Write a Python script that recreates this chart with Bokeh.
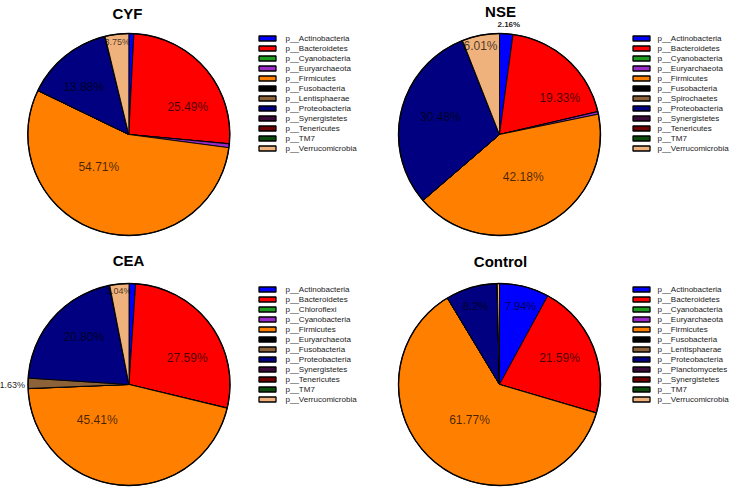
import math
from bokeh.plotting import figure
from bokeh.models import Range1d, ColumnDataSource
from bokeh.embed import file_html
from bokeh.resources import INLINE
from bokeh.core.properties import value

# ---------------- data ----------------
titles = ["CYF", "NSE", "CEA", "Control"]

phyla_cyf = ["p__Actinobacteria", "p__Bacteroidetes", "p__Cyanobacteria", "p__Euryarchaeota",
             "p__Firmicutes", "p__Fusobacteria", "p__Lentisphaerae", "p__Proteobacteria",
             "p__Synergistetes", "p__Tenericutes", "p__TM7", "p__Verrucomicrobia"]
values_cyf = [0.80, 25.49, 0.03, 0.60, 54.71, 0.02, 0.02, 13.88, 0.02, 0.03, 0.02, 3.75]
labels_cyf = ["25.49%", "54.71%", "13.88%", "3.75%"]
label_idx_cyf = [1, 4, 7, 11]

phyla_nse = ["p__Actinobacteria", "p__Bacteroidetes", "p__Cyanobacteria", "p__Euryarchaeota",
             "p__Firmicutes", "p__Fusobacteria", "p__Spirochaetes", "p__Proteobacteria",
             "p__Synergistetes", "p__Tenericutes", "p__TM7", "p__Verrucomicrobia"]
values_nse = [2.16, 19.33, 0.03, 0.40, 42.18, 0.02, 0.02, 30.48, 0.02, 0.02, 0.02, 6.01]
labels_nse = ["2.16%", "19.33%", "42.18%", "30.48%", "6.01%"]
label_idx_nse = [0, 1, 4, 7, 11]

phyla_cea = ["p__Actinobacteria", "p__Bacteroidetes", "p__Chloroflexi", "p__Cyanobacteria",
             "p__Firmicutes", "p__Euryarchaeota", "p__Fusobacteria", "p__Proteobacteria",
             "p__Synergistetes", "p__Tenericutes", "p__TM7", "p__Verrucomicrobia"]
values_cea = [1.05, 27.59, 0.02, 0.03, 45.41, 0.03, 1.63, 20.80, 0.02, 0.03, 0.02, 3.04]
labels_cea = ["27.59%", "45.41%", "1.63%", "20.80%", "3.04%"]
label_idx_cea = [1, 4, 6, 7, 11]

phyla_ctl = ["p__Actinobacteria", "p__Bacteroidetes", "p__Cyanobacteria", "p__Euryarchaeota",
             "p__Firmicutes", "p__Fusobacteria", "p__Lentisphaerae", "p__Proteobacteria",
             "p__Planctomycetes", "p__Synergistetes", "p__TM7", "p__Verrucomicrobia"]
values_ctl = [7.94, 21.59, 0.02, 0.02, 61.77, 0.02, 0.02, 8.20, 0.02, 0.02, 0.02, 0.35]
labels_ctl = ["7.94%", "21.59%", "61.77%", "8.2%"]
label_idx_ctl = [0, 1, 4, 7]

# ---------------- style / layout ----------------
palette = ["#0000FF", "#FF0000", "#1E9E1E", "#9A2BC8", "#FF8000", "#000000",
           "#8C6239", "#000080", "#3A0A3A", "#6E0000", "#0A4A0A", "#F0B27C"]

W, H = 733, 487
R = 101

def Y(y):
    return 489 - y

panels = [
    dict(title=titles[0], phyla=phyla_cyf, values=values_cyf, labels=labels_cyf, idx=label_idx_cyf,
         c=(128.3, 134), title_xy=(127, 13), leg=(267, 285, 38),
         lab=[(59, -27.3, 12, False), (-30, 32.7, 12, False), (-45, -48, 12, False), (-11.6, -92.3, 9, False)]),
    dict(title=titles[1], phyla=phyla_nse, values=values_nse, labels=labels_nse, idx=label_idx_nse,
         c=(499, 134), title_xy=(500, 11), leg=(641, 657, 38),
         lab=[(9.3, -110, 8, True), (60.3, -36.7, 12, False), (23.7, 42.7, 12, False), (-59, -17.3, 12, False), (-19, -89, 12, False)]),
    dict(title=titles[2], phyla=phyla_cea, values=values_cea, labels=labels_cea, idx=label_idx_cea,
         c=(128.5, 384), title_xy=(128, 260), leg=(267, 285, 289),
         lab=[(58.2, -26.7, 12, False), (-31.8, 35, 12, False), (-116.8, 0.3, 9, False), (-45.2, -47.3, 12, False), (-10.2, -94, 9, False)]),
    dict(title=titles[3], phyla=phyla_ctl, values=values_ctl, labels=labels_ctl, idx=label_idx_ctl,
         c=(499, 384), title_xy=(500, 261), leg=(641, 657, 289),
         lab=[(21, -79, 11, False), (60, -26.7, 12, False), (-30, 35, 12, False), (-24, -79, 11, False)]),
]

p = figure(width=W, height=H, x_range=Range1d(0, W), y_range=Range1d(489 - H, 489),
           output_backend="svg", toolbar_location=None, x_axis_location=None, y_axis_location=None,
           min_border=0)
p.grid.visible = False
p.outline_line_color = None
p.background_fill_color = "white"
p.border_fill_color = "white"

FONT = value("Liberation Sans")

for pn in panels:
    vals = pn["values"]
    total = float(sum(vals))
    starts, ends = [], []
    cum = 0.0
    for v in vals:
        a0 = cum / total
        cum += v
        a1 = cum / total
        starts.append(math.pi / 2 - 2 * math.pi * a1)
        ends.append(math.pi / 2 - 2 * math.pi * a0)
    cx, cy = pn["c"]
    src = ColumnDataSource(dict(start=starts, end=ends, color=palette[:len(vals)]))
    p.wedge(x=cx, y=Y(cy), radius=R, start_angle="start", end_angle="end",
            fill_color="color", line_color="black", line_width=0.9, source=src)
    p.circle(x=[cx], y=[Y(cy)], radius=R, fill_color=None, line_color="black", line_width=1.4)

    # slice labels
    for (dx, dy, size, bold), txt in zip(pn["lab"], pn["labels"]):
        outside = bold or abs(dy) < 1
        p.text(x=[cx + dx], y=[Y(cy + dy)], text=[txt], text_font=FONT,
               text_font_size=f"{size}px", text_align="center", text_baseline="middle",
               text_color="black", text_alpha=0.9 if outside else 0.72,
               text_font_style="bold" if bold else "normal")

    # title
    tx, ty = pn["title_xy"]
    p.text(x=[tx], y=[Y(ty)], text=[pn["title"]], text_font=FONT, text_font_size="15px",
           text_font_style="bold", text_align="center", text_baseline="middle", text_color="black")

    # legend
    sx, txx, y0 = pn["leg"]
    ys = [Y(y0 + 10 * i) for i in range(len(pn["phyla"]))]
    p.rect(x=[sx] * len(ys), y=ys, width=17, height=5, fill_color=palette[:len(ys)],
           line_color="black", line_width=1.3)
    p.text(x=[txx] * len(ys), y=ys, text=pn["phyla"], text_font=FONT, text_font_size="8px",
           text_align="left", text_baseline="middle", text_color="#1a1a1a")

open("out.html", "w").write(file_html(p, INLINE))
